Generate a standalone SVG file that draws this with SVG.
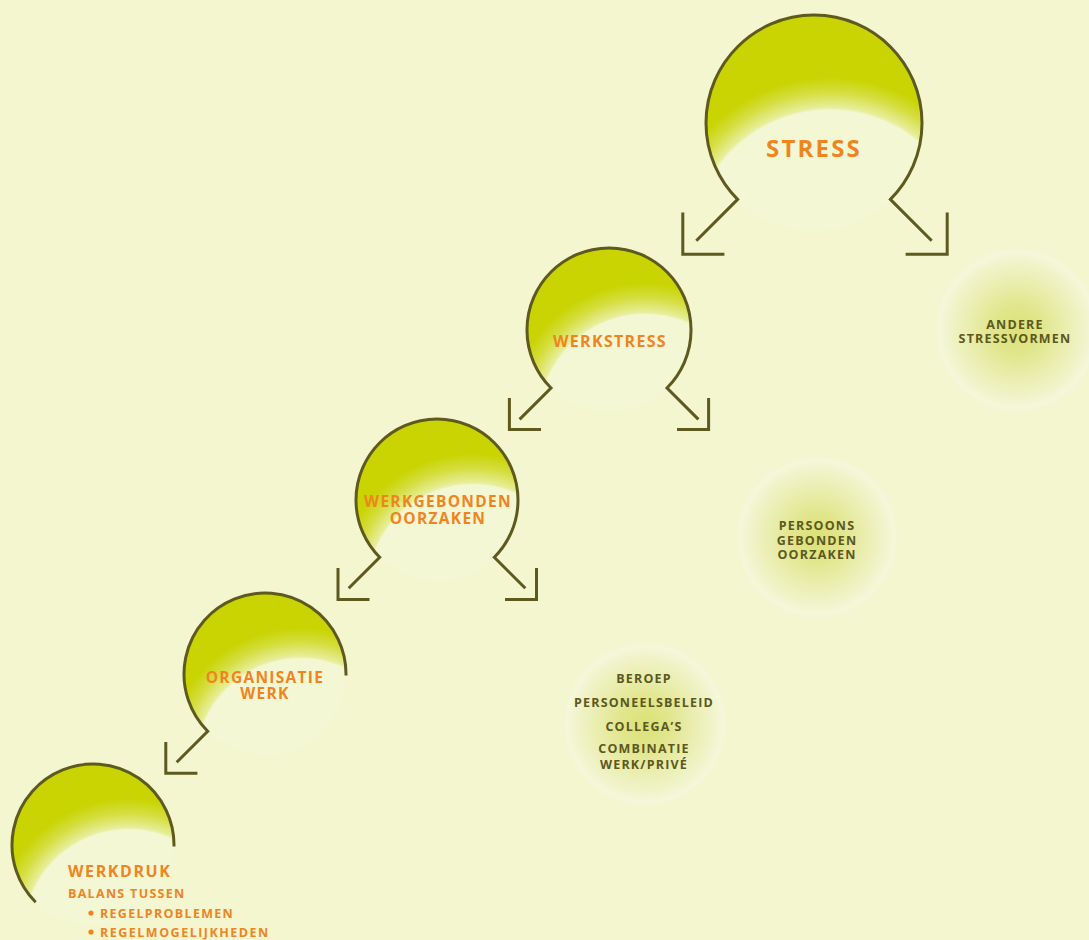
<svg xmlns="http://www.w3.org/2000/svg" width="1089" height="940" viewBox="0 0 1089 940">
<defs>
<radialGradient id="gBig" cx="0.574" cy="1.079" r="0.85" fx="0.574" fy="1.079">
<stop offset="0" stop-color="#f4f7d4"/>
<stop offset="0.75" stop-color="#f4f7d4"/>
<stop offset="0.765" stop-color="#e8ee9c"/>
<stop offset="0.85" stop-color="#d5de40"/>
<stop offset="0.93" stop-color="#c9d402"/>
<stop offset="1" stop-color="#c9d402"/>
</radialGradient>
<radialGradient id="gBall" cx="0.72" cy="1.05" r="0.9" fx="0.72" fy="1.05">
<stop offset="0" stop-color="#f4f7d4"/>
<stop offset="0.715" stop-color="#f4f7d4"/>
<stop offset="0.73" stop-color="#e8ee9c"/>
<stop offset="0.83" stop-color="#d5de40"/>
<stop offset="0.93" stop-color="#c9d402"/>
<stop offset="1" stop-color="#c9d402"/>
</radialGradient>
<radialGradient id="gSoft" cx="0.5" cy="0.5" r="0.5">
<stop offset="0" stop-color="#dce177"/>
<stop offset="0.3" stop-color="#e1e68c"/>
<stop offset="0.6" stop-color="#eaeeb0"/>
<stop offset="0.85" stop-color="#f1f4cc"/>
<stop offset="0.95" stop-color="#f5f7da"/>
<stop offset="1" stop-color="#f3f6d2"/>
</radialGradient>
</defs>
<style>
.bg{fill:#f3f6cf}
.big{fill:url(#gBig)}
.ball{fill:url(#gBall)}
.soft{fill:url(#gSoft)}
.ln{fill:none;stroke:#5e5a1f;stroke-width:3;stroke-linecap:butt;stroke-linejoin:miter}
.t{font-family:"Open Sans","Liberation Sans",sans-serif;font-weight:700;fill:#f0841f;text-anchor:middle;letter-spacing:1.3px}
.s{font-family:"Open Sans","Liberation Sans",sans-serif;font-weight:700;fill:#5c581e;text-anchor:middle;font-size:12.5px;letter-spacing:1.2px}
.l{font-family:"Open Sans","Liberation Sans",sans-serif;font-weight:700;fill:#f0841f;letter-spacing:1.3px}
</style>
<rect class="bg" x="0" y="0" width="1089" height="940"/>

<g id="node-stress">
<circle class="big" cx="814" cy="123" r="108"/>
<path class="ln" d="M696.3,240.7 L737.6,199.4 A108,108 0 1 1 890.4,199.4 L931.7,240.7"/>
<text class="t" x="814" y="157" font-size="24" style="letter-spacing:2.2px">STRESS</text>
</g>

<g id="node-werkstress">
<circle class="ball" cx="609" cy="330" r="82"/>
<path class="ln" d="M519.6,419.4 L551,388 A82,82 0 1 1 667,388 L698.4,419.4"/>
<text class="t" x="610" y="347" font-size="16">WERKSTRESS</text>
</g>

<g id="node-werkgebonden">
<circle class="ball" cx="437" cy="500" r="81"/>
<path class="ln" d="M348.7,588.3 L379.7,557.3 A81,81 0 1 1 494.3,557.3 L525.3,588.3"/>
<text class="t" x="438" y="507" font-size="15.5">WERKGEBONDEN</text>
<text class="t" x="438" y="524" font-size="15.5">OORZAKEN</text>
</g>

<g id="node-organisatie">
<circle class="ball" cx="265" cy="674" r="81"/>
<path class="ln" d="M176.7,762.3 L207.7,731.3 A81,81 0 1 1 346,675.5"/>
<text class="t" x="265" y="683" font-size="15.5">ORGANISATIE</text>
<text class="t" x="265" y="699" font-size="15.5">WERK</text>
</g>

<g id="node-werkdruk">
<circle class="ball" cx="93" cy="845" r="81"/>
<path class="ln" d="M35.7,902.3 A81,81 0 1 1 174,846.5"/>
<text class="l" x="68" y="877" font-size="16" style="letter-spacing:1.6px">WERKDRUK</text>
<text class="l" x="68" y="898" font-size="12.5">BALANS TUSSEN</text>
<circle cx="91" cy="913" r="2.6" fill="#f0841f"/>
<text class="l" x="100" y="918" font-size="12.5">REGELPROBLEMEN</text>
<circle cx="91" cy="932" r="2.6" fill="#f0841f"/>
<text class="l" x="100" y="937" font-size="12.5" style="letter-spacing:1.5px">REGELMOGELIJKHEDEN</text>
</g>

<g id="node-andere">
<circle class="soft" cx="1017" cy="330" r="82"/>
<text class="s" x="1015" y="329">ANDERE</text>
<text class="s" x="1015" y="343">STRESSVORMEN</text>
</g>

<g id="node-persoons">
<circle class="soft" cx="817" cy="537" r="81"/>
<text class="s" x="817" y="530">PERSOONS</text>
<text class="s" x="817" y="545">GEBONDEN</text>
<text class="s" x="817" y="559">OORZAKEN</text>
</g>

<g id="node-beroep">
<circle class="soft" cx="645" cy="724" r="82"/>
<text class="s" x="644" y="683">BEROEP</text>
<text class="s" x="644" y="707">PERSONEELSBELEID</text>
<text class="s" x="644" y="731">COLLEGA’S</text>
<text class="s" x="644" y="753">COMBINATIE</text>
<text class="s" x="644" y="769">WERK/PRIVÉ</text>
</g>

<g id="connectors">
<path class="ln" d="M682.8,212.6 V254.2 H724.4"/>
<path class="ln" d="M905.6,254.2 H947.2 V212.6"/>
<path class="ln" d="M509.4,398 V429.6 H541"/>
<path class="ln" d="M677,429.6 H708.6 V398"/>
<path class="ln" d="M338,568 V599.5 H369.5"/>
<path class="ln" d="M505,599.5 H536.5 V568"/>
<path class="ln" d="M165.8,742 V773.2 H197.4"/>
</g>
</svg>
